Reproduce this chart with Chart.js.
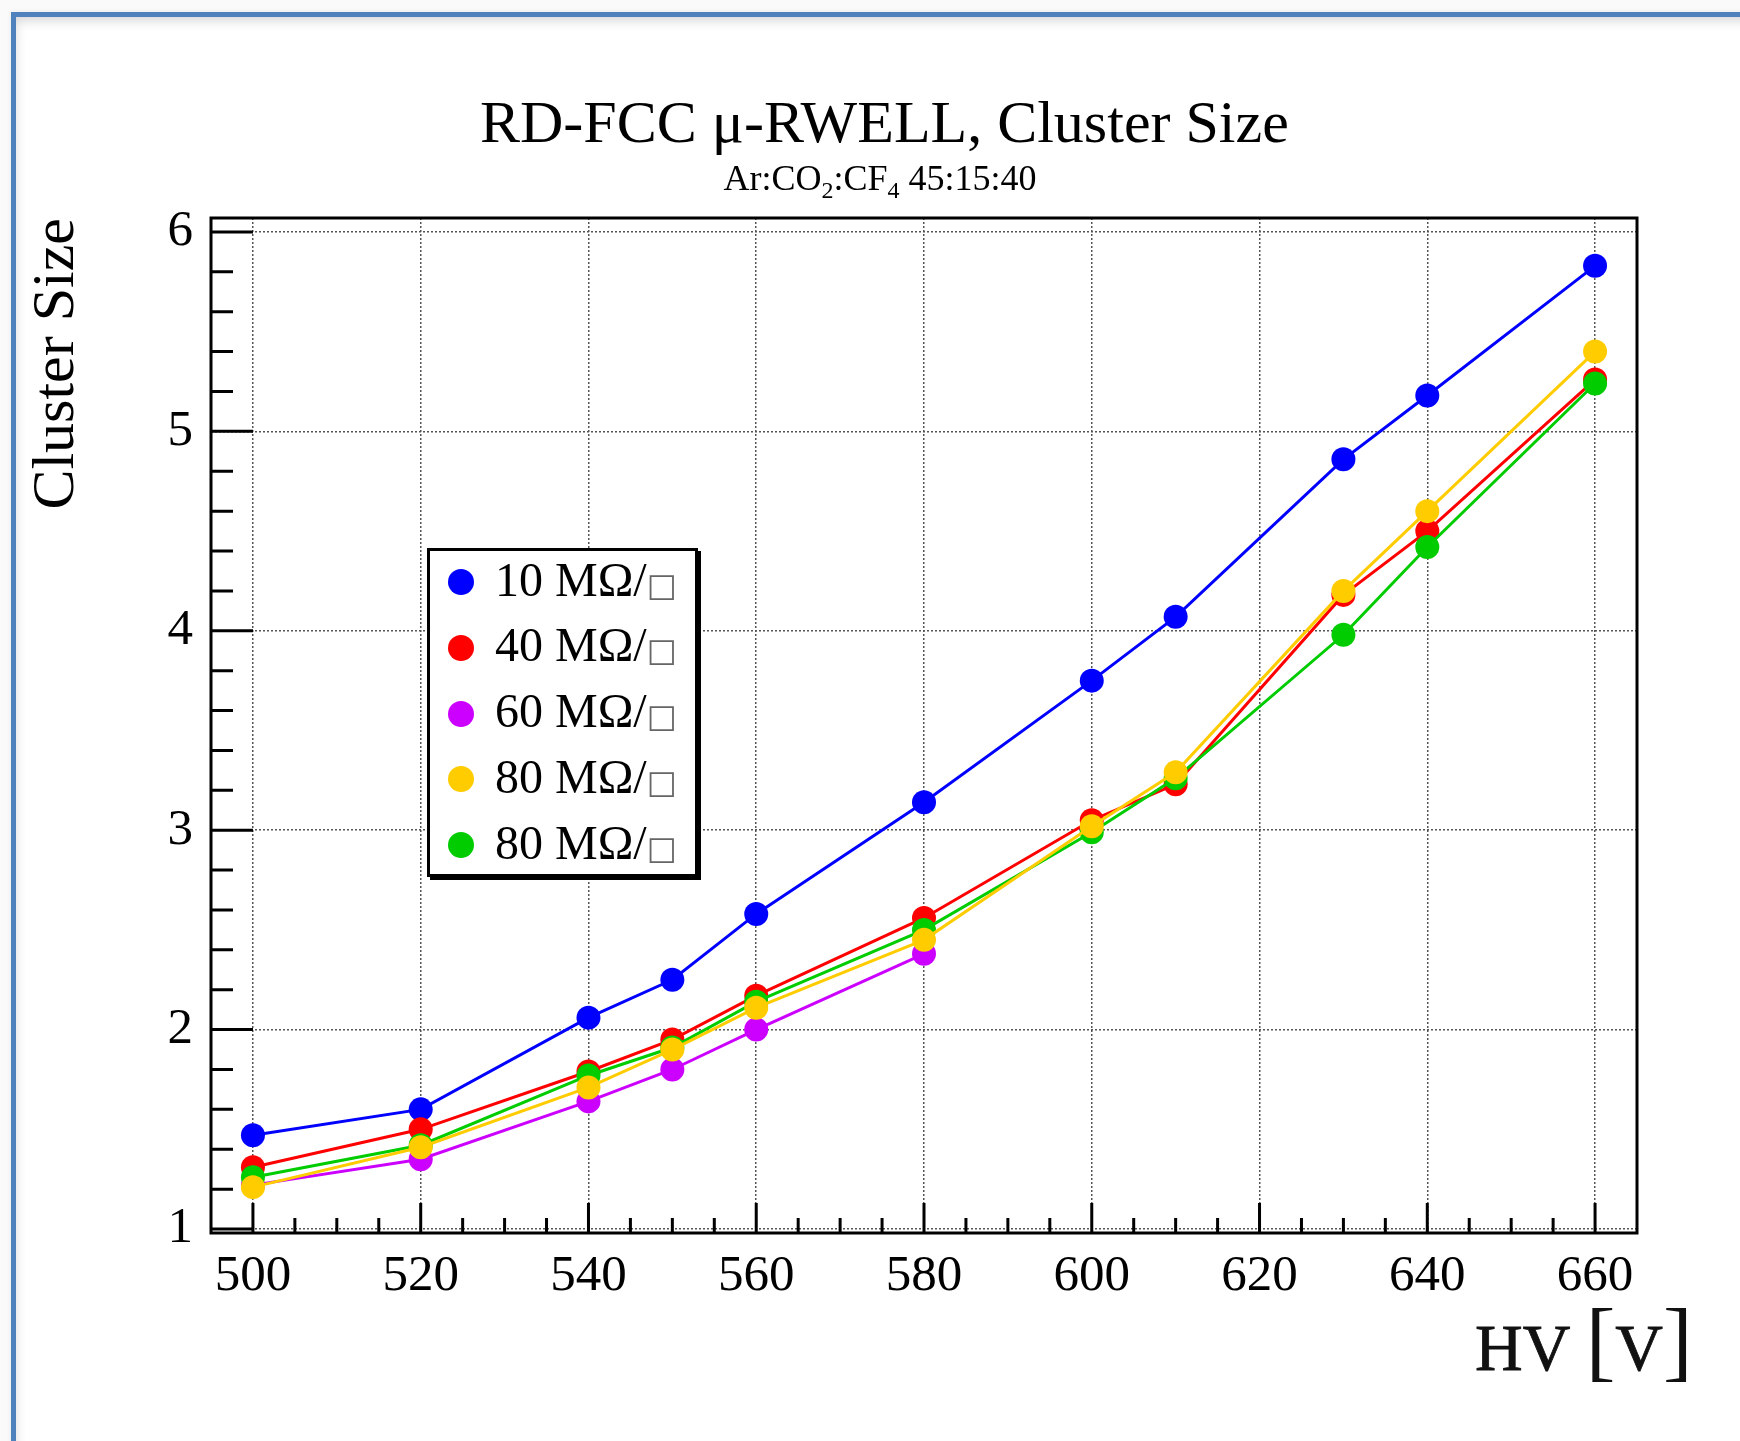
<!DOCTYPE html>
<html lang="en">
<head>
  <meta charset="UTF-8">
  <title>RD-FCC μ-RWELL, Cluster Size</title>
  <script src="https://cdn.jsdelivr.net/npm/chart.js"></script>
  <style>
    html, body { margin: 0; padding: 0; background: #fafafa; overflow: hidden; }
    body { width: 1740px; height: 1441px; position: relative; font-family: "Liberation Serif", serif; color: #000; }
    .sheet {
      position: absolute; left: 11px; top: 12px; width: 1760px; height: 1460px;
      background: #fff; border-top: 5px solid #4f81bd; border-left: 5px solid #4f81bd;
      box-shadow: inset 3px 7px 12px -4px rgba(0,0,0,0.18), 0 0 5px rgba(0,0,0,0.08);
    }
    #chart { position: absolute; left: 0; top: 0; }
    .title { position: absolute; left: 480px; width: 800px; text-align: center; white-space: nowrap; }
    #mainTitle { top: 92px; font-size: 60px; line-height: 60px; }
    #subTitle { top: 160px; font-size: 36px; line-height: 36px; }
    #subTitle sub { font-size: 24px; vertical-align: -8px; line-height: 0; }
    #xTitle { position: absolute; left: 1475px; top: 1307px; font-size: 66px; line-height: 66px; color: #111; filter: blur(0.6px); white-space: nowrap; -webkit-text-stroke: 0.8px #111; }
    #xTitle .br { font-size: 89px; -webkit-text-stroke: 0; }
    #legend {
      position: absolute; left: 427px; top: 548px; width: 271px; height: 329px; box-sizing: border-box;
      background: #fff; border: 3px solid #000; box-shadow: 3px 3px 0 #000;
    }
    .row { position: absolute; left: 0; height: 66px; display: flex; align-items: center; }
    .dot { width: 26px; height: 26px; border-radius: 50%; margin-left: 18px; }
    .txt { margin-left: 21px; font-size: 48px; line-height: 66px; white-space: nowrap; }
    .sq { font-family: "DejaVu Sans", sans-serif; font-size: 32px; color: #666; }
  </style>
</head>
<body>
  <div class="sheet"></div>
  <canvas id="chart" width="1740" height="1441"></canvas>
  <div id="mainTitle" class="title">RD-FCC μ-RWELL, Cluster Size</div>
  <div id="subTitle" class="title">Ar:CO<sub>2</sub>:CF<sub>4</sub> 45:15:40</div>
  <div id="xTitle">HV <span class="br">[</span>V<span class="br">]</span></div>
  <div id="legend"></div>
  <script>
    // HV points [V]
    const hvValues = [500, 520, 540, 550, 560, 580, 600, 610, 630, 640, 660];
    // cluster size per resistivity
    const cs10 = [1.47, 1.60, 2.06, 2.25, 2.58, 3.14, 3.75, 4.07, 4.86, 5.18, 5.83];
    const cs40 = [1.31, 1.50, 1.79, 1.95, 2.17, 2.56, 3.05, 3.23, 4.18, 4.50, 5.26];
    const cs60 = [1.22, 1.35, 1.64, 1.80, 2.00, 2.38];
    const cs80a = [1.21, 1.41, 1.71, 1.90, 2.11, 2.45, 3.02, 3.29, 4.20, 4.60, 5.40];
    const cs80b = [1.26, 1.42, 1.77, 1.91, 2.14, 2.50, 2.99, 3.26, 3.98, 4.42, 5.24];

    const seriesLabels = ['10 MΩ/□', '40 MΩ/□', '60 MΩ/□', '80 MΩ/□', '80 MΩ/□'];
    const seriesColors = ['#0000ff', '#ff0000', '#cc00ff', '#ffcc00', '#00cc00'];
    const seriesValues = [cs10, cs40, cs60, cs80a, cs80b];
    const drawOrder = [4, 2, 3, 0, 1]; // yellow on top, blue at the bottom

    const xTickValues = [500, 520, 540, 560, 580, 600, 620, 640, 660];
    const yTickValues = [1, 2, 3, 4, 5, 6];

    const datasets = seriesValues.map((vals, i) => ({
      label: seriesLabels[i],
      data: vals.map((v, k) => ({ x: hvValues[k], y: v })),
      borderColor: seriesColors[i],
      backgroundColor: seriesColors[i],
      pointBackgroundColor: seriesColors[i],
      pointBorderWidth: 0,
      pointRadius: 12,
      borderWidth: 3,
      tension: 0,
      order: drawOrder[i]
    }));

    // ROOT-like frame with inward ticks
    const rootFrame = {
      id: 'rootFrame',
      beforeDatasetsDraw(chart) {
        const { ctx, chartArea: a, scales: { x, y } } = chart;
        ctx.save();
        ctx.strokeStyle = '#000';
        ctx.lineWidth = 3;
        ctx.beginPath();
        for (let i = 0; i <= 32; i++) {
          const v = 500 + i * 5;
          const px = x.getPixelForValue(v);
          const len = i % 4 === 0 ? 30 : 15;
          ctx.moveTo(px, a.bottom);
          ctx.lineTo(px, a.bottom - len);
        }
        for (let i = 0; i <= 25; i++) {
          const v = 1 + i * 0.2;
          const py = y.getPixelForValue(v);
          const len = i % 5 === 0 ? 42 : 22;
          ctx.moveTo(a.left, py);
          ctx.lineTo(a.left + len, py);
        }
        ctx.stroke();
        ctx.strokeRect(a.left, a.top, a.right - a.left, a.bottom - a.top);
        ctx.restore();
      }
    };

    const tickFont = { family: 'Liberation Serif', size: 51 };
    const gridOpts = { color: '#555', lineWidth: 1.5, drawTicks: false };

    new Chart(document.getElementById('chart'), {
      type: 'line',
      data: { datasets },
      options: {
        responsive: false,
        animation: false,
        devicePixelRatio: 1,
        events: [],
        layout: { padding: { left: 0, top: 218, right: 103, bottom: 0 } },
        plugins: { legend: { display: false }, tooltip: { enabled: false } },
        scales: {
          x: {
            type: 'linear', min: 495, max: 665,
            afterBuildTicks: s => { s.ticks = xTickValues.map(v => ({ value: v })); },
            afterFit: s => { s.height = 208; },
            ticks: { font: tickFont, color: '#000', padding: 13, maxRotation: 0, autoSkip: false },
            grid: gridOpts,
            border: { display: false, dash: [2, 2] }
          },
          y: {
            type: 'linear', min: 0.98, max: 6.07,
            afterBuildTicks: s => { s.ticks = yTickValues.map(v => ({ value: v })); },
            afterFit: s => { s.width = 211; },
            ticks: { font: tickFont, color: '#000', padding: 18 },
            grid: gridOpts,
            border: { display: false, dash: [2, 2] },
            title: {
              display: true, text: 'Cluster Size', align: 'end', color: '#000',
              font: { family: 'Liberation Serif', size: 60 },
              padding: { top: 21, bottom: 0 }
            }
          }
        }
      },
      plugins: [rootFrame]
    });

    // legend box, built from the series
    const legend = document.getElementById('legend');
    seriesLabels.forEach((lab, i) => {
      const row = document.createElement('div');
      row.className = 'row';
      row.style.top = (-2 + i * 65.75) + 'px';
      row.innerHTML = `<div class="dot" style="background:${seriesColors[i]}"></div>` +
        `<div class="txt">${lab.slice(0, -1)}<span class="sq">${lab.slice(-1)}</span></div>`;
      legend.appendChild(row);
    });
  </script>
</body>
</html>
